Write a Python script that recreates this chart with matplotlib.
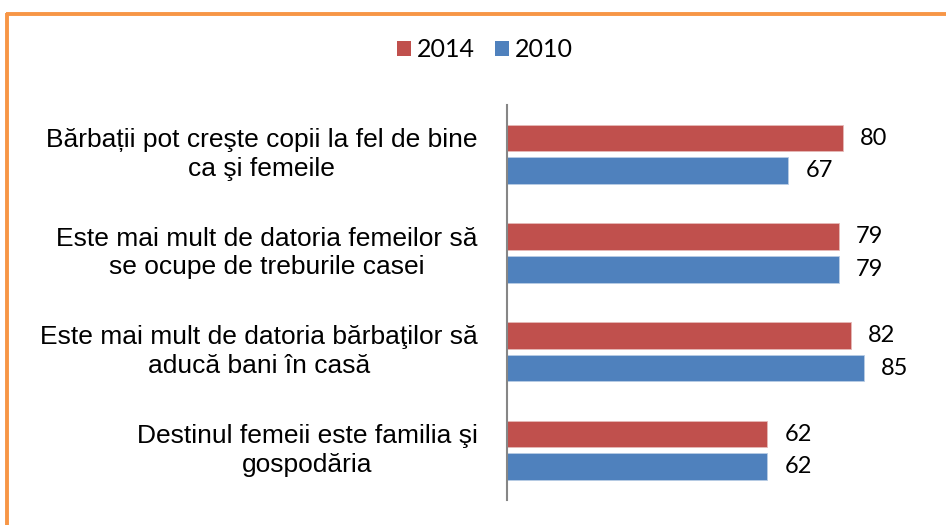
import numpy as np
import matplotlib.pyplot as plt
from matplotlib.lines import Line2D
from matplotlib.patches import Patch

categories = [
    "Bărbații pot creşte copii la fel de bine\nca şi femeile",
    "Este mai mult de datoria femeilor să\nse ocupe de treburile casei",
    "Este mai mult de datoria bărbaţilor să\naducă bani în casă",
    "Destinul femeii este familia şi\ngospodăria",
]
vals_2014 = [80, 79, 82, 62]
vals_2010 = [67, 79, 85, 62]
series = ["2014", "2010"]
colors = ["#C0504D", "#4F81BD"]

fig = plt.figure(figsize=(9.46, 5.25), dpi=100)
ax = fig.add_axes([0.536, 0.048, 0.444, 0.752])

y = np.arange(len(categories))
h = 0.27
off = 0.165
b1 = ax.barh(y - off, vals_2014, height=h, color=colors[0], edgecolor="#E6B9B8", linewidth=0.6)
b2 = ax.barh(y + off, vals_2010, height=h, color=colors[1], edgecolor="#B9CDE5", linewidth=0.6)

for bars, vals in [(b1, vals_2014), (b2, vals_2010)]:
    for bar, v in zip(bars, vals):
        ax.text(v + 4, bar.get_y() + bar.get_height() / 2, str(v),
                va="center", ha="left", fontsize=17, family="Lato")

ax.set_xlim(0, 100)
ax.set_ylim(3.5, -0.5)
ax.set_xticks([])
ax.set_yticks([])
for s in ["top", "right", "bottom"]:
    ax.spines[s].set_visible(False)
ax.spines["left"].set_color("#868686")
ax.spines["left"].set_linewidth(1.5)

for yi, lab in zip(y, categories):
    ax.text(-7, yi, lab, ha="right", va="center", multialignment="center",
            fontsize=19, family="Liberation Sans", linespacing=1.25)

handles = [Patch(facecolor=c, edgecolor="none") for c in colors]
fig.legend(handles, series, loc="center", bbox_to_anchor=(0.513, 0.905), ncol=2,
           frameon=False, prop={"family": "Lato", "size": 18},
           handlelength=0.55, handleheight=0.55, handletextpad=0.25, columnspacing=0.8)

# orange frame (top and left only visible)
fig.add_artist(Line2D([0.006, 1.0], [0.9735, 0.9735], color="#F79646", lw=2.8,
                      transform=fig.transFigure, solid_capstyle="butt"))
fig.add_artist(Line2D([0.0075, 0.0075], [0.976, 0.0], color="#F79646", lw=2.8,
                      transform=fig.transFigure, solid_capstyle="butt"))

fig.savefig("out.png", dpi=100)
